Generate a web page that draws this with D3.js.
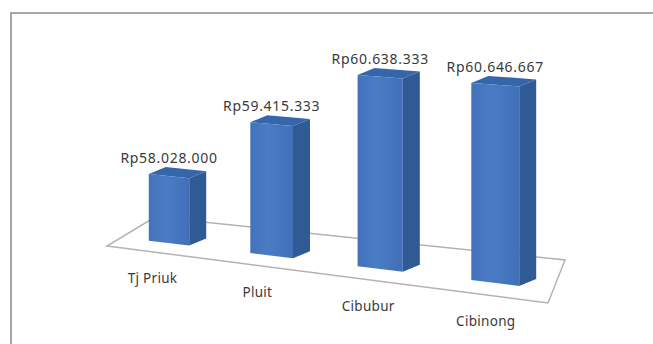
<!DOCTYPE html>
<html>
<head>
<meta charset="utf-8">
<script src="https://cdn.jsdelivr.net/npm/d3@7"></script>
<style>
  body { margin: 0; background: #fff; }
  svg { display: block; }
</style>
</head>
<body>
<div id="chart"></div>
<script>
var categories = ["Tj Priuk", "Pluit", "Cibubur", "Cibinong"];
var values = [58028000, 59415333, 60638333, 60646667];
var valueLabels = ["Rp58.028.000", "Rp59.415.333", "Rp60.638.333", "Rp60.646.667"];
var axisDomain = [56500000, 61000000];

var W = 653, H = 344;

var svg = d3.select("#chart").append("svg")
  .attr("width", W)
  .attr("height", H);

var defs = svg.append("defs");
var grad = defs.append("linearGradient").attr("id", "front")
  .attr("x1", "0%").attr("x2", "100%").attr("y1", "0%").attr("y2", "0%");
grad.append("stop").attr("offset", "0%").attr("stop-color", "#4272bb");
grad.append("stop").attr("offset", "40%").attr("stop-color", "#4a7cc5");
grad.append("stop").attr("offset", "100%").attr("stop-color", "#4170b8");

// chart frame (runs off the right / bottom of the crop)
svg.append("rect")
  .attr("x", 11).attr("y", 13)
  .attr("width", 700).attr("height", 400)
  .attr("fill", "#fff")
  .attr("stroke", "#a6a6a6")
  .attr("stroke-width", 2);

// floor corners on screen: front-left, front-right, back-right, back-left
var FL = [107, 246], FR = [548, 303], BR = [565, 260], BL = [155, 217];
var farRatio = 1.12;          // left end of the floor is this much farther away
var horizonY = -200, refY = 242;

function lerp(a, b, t) { return [a[0] + (b[0] - a[0]) * t, a[1] + (b[1] - a[1]) * t]; }

// floor point for u (along categories, 0..1) and v (depth, 0 front .. 1 back)
function floor(u, v) {
  var t = u / (farRatio - (farRatio - 1) * u);
  return lerp(lerp(FL, FR, t), lerp(BL, BR, t), v);
}
function depthScale(p) { return (p[1] - horizonY) / (refY - horizonY); }

var x = d3.scaleBand().domain(categories).range([0, 1])
  .paddingInner(0.595).paddingOuter(0.28);
var y = d3.scaleLinear().domain(axisDomain).range([0, 197]);

var barFront = 0.3;
var off = [17, -7];

svg.append("polygon")
  .attr("points", [FL, FR, BR, BL].map(function(p){ return p.join(","); }).join(" "))
  .attr("fill", "#fff")
  .attr("stroke", "#b3b3b3")
  .attr("stroke-width", 1.5);

var bars = categories.map(function(c, i) {
  var u0 = x(c), u1 = u0 + x.bandwidth();
  var flb = floor(u0, barFront), frb = floor(u1, barFront);
  var hl = y(values[i]) * depthScale(flb), hr = y(values[i]) * depthScale(frb);
  var flt = [flb[0], flb[1] - hl], frt = [frb[0], frb[1] - hr];
  var add = function(p){ return [p[0] + off[0], p[1] + off[1]]; };
  return {
    front: [flb, frb, frt, flt],
    side: [frb, add(frb), add(frt), frt],
    top: [flt, frt, add(frt), add(flt)],
    label: valueLabels[i],
    cx: (flt[0] + frt[0]) / 2,
    ty: Math.min(add(flt)[1], add(frt)[1])
  };
});

function pts(a) { return a.map(function(p){ return p[0].toFixed(1) + "," + p[1].toFixed(1); }).join(" "); }

var g = svg.selectAll("g.bar").data(bars).enter().append("g").attr("class", "bar");
g.append("polygon").attr("points", function(d){ return pts(d.side); })
  .attr("fill", "#2f5a94");
g.append("polygon").attr("points", function(d){ return pts(d.top); })
  .attr("fill", "#3666aa");
g.append("polygon").attr("points", function(d){ return pts(d.front); })
  .attr("fill", "url(#front)");

g.append("text")
  .attr("x", function(d){ return d.cx; })
  .attr("y", function(d){ return d.ty - 4; })
  .attr("text-anchor", "middle")
  .attr("font-family", "Noto Sans, sans-serif")
  .attr("font-size", 14)
  .attr("letter-spacing", 0.7)
  .attr("fill", "#3a3a3a")
  .text(function(d){ return d.label; });

svg.selectAll("text.cat").data(categories).enter().append("text")
  .attr("class", "cat")
  .attr("x", function(c){ return floor(x(c) + x.bandwidth() / 2, 0)[0] - 3; })
  .attr("y", function(c){ return floor(x(c) + x.bandwidth() / 2, 0)[1] + 31; })
  .attr("text-anchor", "middle")
  .attr("font-family", "Noto Sans, sans-serif")
  .attr("font-size", 13.5)
  .attr("letter-spacing", 0.3)
  .attr("fill", "#3a3a3a")
  .text(function(c){ return c; });
</script>
</body>
</html>
